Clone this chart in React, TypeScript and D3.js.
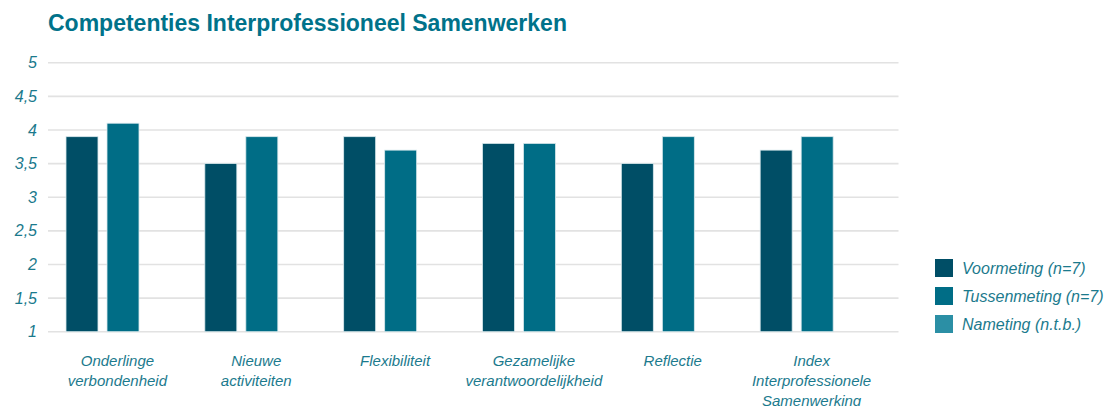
import React from "react";
import * as d3 from "d3";

const categories = [
  "Onderlinge\nverbondenheid",
  "Nieuwe\nactiviteiten",
  "Flexibiliteit",
  "Gezamelijke\nverantwoordelijkheid",
  "Reflectie",
  "Index\nInterprofessionele\nSamenwerking",
];
const series = ["Voormeting (n=7)", "Tussenmeting (n=7)", "Nameting (n.t.b.)"];
const voormeting = [3.9, 3.5, 3.9, 3.8, 3.5, 3.7];
const tussenmeting = [4.1, 3.9, 3.7, 3.8, 3.9, 3.9];
const nameting: (number | null)[] = [null, null, null, null, null, null];
const yTicks = [1, 1.5, 2, 2.5, 3, 3.5, 4, 4.5, 5];

const colors = ["#004e66", "#006d86", "#2b8fa5"];
const textColor = "#1b7a8d";
const font = "'Liberation Sans', Arial, sans-serif";

const W = 1106;
const H = 406;
const left = 48;
const plotRight = 898.5;
const top = 62.7;
const bottom = 331.7;

export default function App() {
  const values = [voormeting, tussenmeting, nameting];
  const x0 = d3.scaleBand<string>().domain(categories).range([left, left + 833]);
  const x1 = d3.scaleBand<string>().domain(series).range([18, 132]).paddingInner(0.22);
  const y = d3.scaleLinear().domain([1, 5]).range([bottom, top]);
  const fmt = (v: number) => String(v).replace(".", ",");

  return (
    <svg
      width={W}
      height={H}
      style={{ position: "absolute", left: 0, top: 0, background: "#fff" }}
      fontFamily={font}
    >
      <text x={48} y={31} fill="#00728a" fontSize={23} fontWeight="bold">
        Competenties Interprofessioneel Samenwerken
      </text>

      {yTicks.map((t) => (
        <g key={t}>
          <line x1={left} x2={plotRight} y1={y(t)} y2={y(t)} stroke="#e2e2e2" strokeWidth={1.6} />
          <text
            x={37}
            y={y(t)}
            dy="0.35em"
            textAnchor="end"
            fontSize={16}
            fontStyle="italic"
            fill={textColor}
          >
            {fmt(t)}
          </text>
        </g>
      ))}

      {categories.map((c, i) => (
        <g key={c} transform={`translate(${x0(c)},0)`}>
          {series.map((s, j) => {
            const v = values[j][i];
            if (v == null) return null;
            return (
              <rect
                key={s}
                x={x1(s)}
                y={y(v)}
                width={x1.bandwidth()}
                height={y(1) - y(v)}
                fill={colors[j]}
                stroke="#d8e8ec"
                strokeWidth={0.8}
              />
            );
          })}
          <text
            x={x0.bandwidth() / 2}
            y={366}
            textAnchor="middle"
            fontSize={15}
            fontStyle="italic"
            fill={textColor}
          >
            {c.split("\n").map((line, k) => (
              <tspan key={k} x={x0.bandwidth() / 2} dy={k === 0 ? 0 : 20}>
                {line}
              </tspan>
            ))}
          </text>
        </g>
      ))}

      {series.map((s, j) => (
        <g key={s} transform={`translate(935,${259 + j * 28})`}>
          <rect width={18} height={18} fill={colors[j]} />
          <text x={27} y={9} dy="0.36em" fontSize={16} fontStyle="italic" fill={textColor}>
            {s}
          </text>
        </g>
      ))}
    </svg>
  );
}
